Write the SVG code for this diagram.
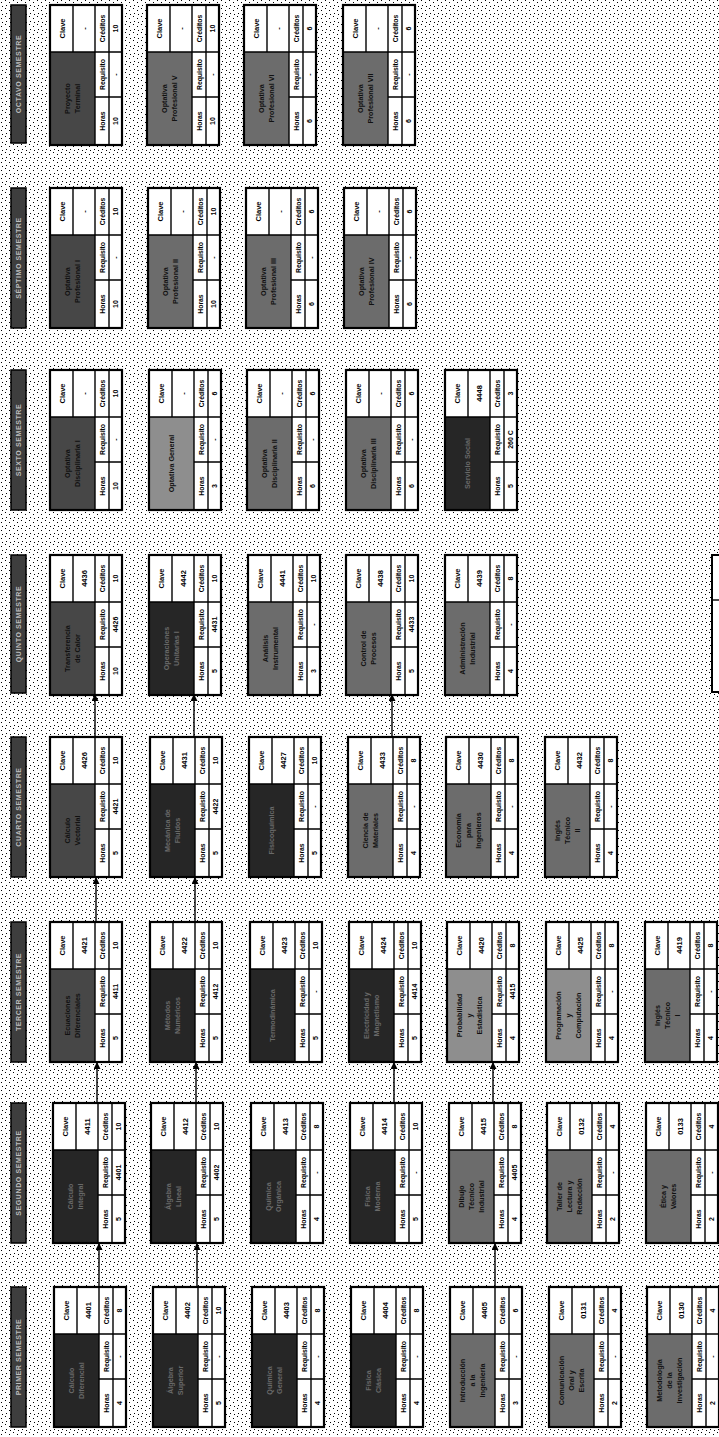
<svg xmlns="http://www.w3.org/2000/svg" xmlns:xlink="http://www.w3.org/1999/xlink" width="719" height="1437" viewBox="0 0 719 1437">
<style>
text{font-family:"Liberation Sans",Arial,sans-serif;font-weight:bold;text-anchor:middle}
.t{font-size:7.5px;fill:#000}
.l{font-size:6.8px;fill:#000}
.v{font-size:7px;fill:#000}
.n{font-size:7.2px;fill:#111}
.bg{fill:#fff}
.dk{fill:#262626}.md{fill:#474747}.mm{fill:#6c6c6c}.lt{fill:#8e8e8e}
.dk~.n{fill:#6a6a6a}
.hd{fill:#3e3e3e;stroke:#000;stroke-width:1.5}
.ht{font-size:7px;fill:#bdbdbd;letter-spacing:0.6px}
.ar{stroke:#000;stroke-width:1.4;fill:none;marker-end:url(#ah)}
</style>
<defs>
<pattern id="nz" width="8" height="8" patternUnits="userSpaceOnUse">
<rect width="8" height="8" fill="#fff"/>
<rect x="1" y="2" width="1" height="1" fill="#000"/>
<rect x="5" y="0" width="1" height="1" fill="#000"/>
<rect x="6" y="5" width="1" height="1" fill="#000"/>
<rect x="2" y="6" width="1" height="1" fill="#000"/>
</pattern>
<marker id="ah" viewBox="0 0 8 8" refX="8" refY="4" markerWidth="7" markerHeight="7" markerUnits="userSpaceOnUse" orient="auto">
<path d="M0 0L8 4L0 8z" fill="#000"/>
</marker>
<g id="fr" fill="none" stroke="#000">
<rect x="0" y="0" width="140" height="72" stroke-width="2.2"/>
<path d="M93 0V72M93 23H140M0 45H140M0 59H140M48 45V72" stroke-width="1.4"/>
</g>
<rect id="cb" width="140" height="72" fill="#fff"/>
</defs>
<rect width="719" height="1437" fill="url(#nz)"/>

<g id="headers">
<g id="h8"><rect class="hd" x="11" y="5" width="15" height="138"/><text class="ht" transform="translate(21,74) rotate(-90)">OCTAVO SEMESTRE</text></g>
<g id="h7"><rect class="hd" x="11" y="188" width="15" height="140"/><text class="ht" transform="translate(21,258) rotate(-90)">SÉPTIMO SEMESTRE</text></g>
<g id="h6"><rect class="hd" x="11" y="370" width="15" height="140"/><text class="ht" transform="translate(21,440) rotate(-90)">SEXTO SEMESTRE</text></g>
<g id="h5"><rect class="hd" x="11" y="555" width="15" height="138"/><text class="ht" transform="translate(21,624) rotate(-90)">QUINTO SEMESTRE</text></g>
<g id="h4"><rect class="hd" x="11" y="737" width="15" height="140"/><text class="ht" transform="translate(21,807) rotate(-90)">CUARTO SEMESTRE</text></g>
<g id="h3"><rect class="hd" x="11" y="922" width="15" height="140"/><text class="ht" transform="translate(21,992) rotate(-90)">TERCER SEMESTRE</text></g>
<g id="h2"><rect class="hd" x="11" y="1103" width="15" height="140"/><text class="ht" transform="translate(21,1173) rotate(-90)">SEGUNDO SEMESTRE</text></g>
<g id="h1"><rect class="hd" x="11" y="1287" width="15" height="140"/><text class="ht" transform="translate(21,1357) rotate(-90)">PRIMER SEMESTRE</text></g>
</g>

<g id="connectors">
<path class="ar" d="M99 1287V1243"/>
<path class="ar" d="M197 1287V1243"/>
<path class="ar" d="M495 1287V1243"/>
<path class="ar" d="M97 1103V1062"/>
<path class="ar" d="M196 1103V1062"/>
<path class="ar" d="M394 1103V1062"/>
<path class="ar" d="M493 1103V1062"/>
<path class="ar" d="M96 922V877"/>
<path class="ar" d="M195 922V877"/>
<path class="ar" d="M95 737V694"/>
<path class="ar" d="M194 737V694"/>
<path class="ar" d="M392 737V694"/>
</g>

<!-- ROW 8 -->
<g id="r8c1" transform="translate(50,145) rotate(-90)"><use href="#cb"/><rect class="md" width="93" height="45"/><text class="n" x="46.5" y="20">Proyecto</text><text class="n" x="46.5" y="30">Terminal</text><use href="#fr"/><text class="t" x="116.5" y="15">Clave</text><text class="t" x="116.5" y="37">-</text><text class="l" x="24" y="54.5">Horas</text><text class="l" x="70.5" y="54.5">Requisito</text><text class="l" x="116.5" y="54.5">Créditos</text><text class="v" x="24" y="68">10</text><text class="v" x="70.5" y="68">-</text><text class="v" x="116.5" y="68">10</text></g>
<g id="r8c2" transform="translate(147,145) rotate(-90)"><use href="#cb"/><rect class="mm" width="93" height="45"/><text class="n" x="46.5" y="20">Optativa</text><text class="n" x="46.5" y="30">Profesional V</text><use href="#fr"/><text class="t" x="116.5" y="15">Clave</text><text class="t" x="116.5" y="37">-</text><text class="l" x="24" y="54.5">Horas</text><text class="l" x="70.5" y="54.5">Requisito</text><text class="l" x="116.5" y="54.5">Créditos</text><text class="v" x="24" y="68">10</text><text class="v" x="70.5" y="68">-</text><text class="v" x="116.5" y="68">10</text></g>
<g id="r8c3" transform="translate(244,145) rotate(-90)"><use href="#cb"/><rect class="mm" width="93" height="45"/><text class="n" x="46.5" y="20">Optativa</text><text class="n" x="46.5" y="30">Profesional VI</text><use href="#fr"/><text class="t" x="116.5" y="15">Clave</text><text class="t" x="116.5" y="37">-</text><text class="l" x="24" y="54.5">Horas</text><text class="l" x="70.5" y="54.5">Requisito</text><text class="l" x="116.5" y="54.5">Créditos</text><text class="v" x="24" y="68">6</text><text class="v" x="70.5" y="68">-</text><text class="v" x="116.5" y="68">6</text></g>
<g id="r8c4" transform="translate(343,145) rotate(-90)"><use href="#cb"/><rect class="mm" width="93" height="45"/><text class="n" x="46.5" y="20">Optativa</text><text class="n" x="46.5" y="30">Profesional VII</text><use href="#fr"/><text class="t" x="116.5" y="15">Clave</text><text class="t" x="116.5" y="37">-</text><text class="l" x="24" y="54.5">Horas</text><text class="l" x="70.5" y="54.5">Requisito</text><text class="l" x="116.5" y="54.5">Créditos</text><text class="v" x="24" y="68">6</text><text class="v" x="70.5" y="68">-</text><text class="v" x="116.5" y="68">6</text></g>

<!-- ROW 7 -->
<g id="r7c1" transform="translate(50,328) rotate(-90)"><use href="#cb"/><rect class="md" width="93" height="45"/><text class="n" x="46.5" y="20">Optativa</text><text class="n" x="46.5" y="30">Profesional I</text><use href="#fr"/><text class="t" x="116.5" y="15">Clave</text><text class="t" x="116.5" y="37">-</text><text class="l" x="24" y="54.5">Horas</text><text class="l" x="70.5" y="54.5">Requisito</text><text class="l" x="116.5" y="54.5">Créditos</text><text class="v" x="24" y="68">10</text><text class="v" x="70.5" y="68">-</text><text class="v" x="116.5" y="68">10</text></g>
<g id="r7c2" transform="translate(148,328) rotate(-90)"><use href="#cb"/><rect class="mm" width="93" height="45"/><text class="n" x="46.5" y="20">Optativa</text><text class="n" x="46.5" y="30">Profesional II</text><use href="#fr"/><text class="t" x="116.5" y="15">Clave</text><text class="t" x="116.5" y="37">-</text><text class="l" x="24" y="54.5">Horas</text><text class="l" x="70.5" y="54.5">Requisito</text><text class="l" x="116.5" y="54.5">Créditos</text><text class="v" x="24" y="68">10</text><text class="v" x="70.5" y="68">-</text><text class="v" x="116.5" y="68">10</text></g>
<g id="r7c3" transform="translate(246,328) rotate(-90)"><use href="#cb"/><rect class="mm" width="93" height="45"/><text class="n" x="46.5" y="20">Optativa</text><text class="n" x="46.5" y="30">Profesional III</text><use href="#fr"/><text class="t" x="116.5" y="15">Clave</text><text class="t" x="116.5" y="37">-</text><text class="l" x="24" y="54.5">Horas</text><text class="l" x="70.5" y="54.5">Requisito</text><text class="l" x="116.5" y="54.5">Créditos</text><text class="v" x="24" y="68">6</text><text class="v" x="70.5" y="68">-</text><text class="v" x="116.5" y="68">6</text></g>
<g id="r7c4" transform="translate(344,328) rotate(-90)"><use href="#cb"/><rect class="mm" width="93" height="45"/><text class="n" x="46.5" y="20">Optativa</text><text class="n" x="46.5" y="30">Profesional IV</text><use href="#fr"/><text class="t" x="116.5" y="15">Clave</text><text class="t" x="116.5" y="37">-</text><text class="l" x="24" y="54.5">Horas</text><text class="l" x="70.5" y="54.5">Requisito</text><text class="l" x="116.5" y="54.5">Créditos</text><text class="v" x="24" y="68">6</text><text class="v" x="70.5" y="68">-</text><text class="v" x="116.5" y="68">6</text></g>

<!-- ROW 6 -->
<g id="r6c1" transform="translate(50,510) rotate(-90)"><use href="#cb"/><rect class="md" width="93" height="45"/><text class="n" x="46.5" y="20">Optativa</text><text class="n" x="46.5" y="30">Disciplinaria I</text><use href="#fr"/><text class="t" x="116.5" y="15">Clave</text><text class="t" x="116.5" y="37">-</text><text class="l" x="24" y="54.5">Horas</text><text class="l" x="70.5" y="54.5">Requisito</text><text class="l" x="116.5" y="54.5">Créditos</text><text class="v" x="24" y="68">10</text><text class="v" x="70.5" y="68">-</text><text class="v" x="116.5" y="68">10</text></g>
<g id="r6c2" transform="translate(149,510) rotate(-90)"><use href="#cb"/><rect class="lt" width="93" height="45"/><text class="n" x="46.5" y="25">Optativa General</text><use href="#fr"/><text class="t" x="116.5" y="15">Clave</text><text class="t" x="116.5" y="37">-</text><text class="l" x="24" y="54.5">Horas</text><text class="l" x="70.5" y="54.5">Requisito</text><text class="l" x="116.5" y="54.5">Créditos</text><text class="v" x="24" y="68">3</text><text class="v" x="70.5" y="68">-</text><text class="v" x="116.5" y="68">6</text></g>
<g id="r6c3" transform="translate(247,510) rotate(-90)"><use href="#cb"/><rect class="mm" width="93" height="45"/><text class="n" x="46.5" y="20">Optativa</text><text class="n" x="46.5" y="30">Disciplinaria II</text><use href="#fr"/><text class="t" x="116.5" y="15">Clave</text><text class="t" x="116.5" y="37">-</text><text class="l" x="24" y="54.5">Horas</text><text class="l" x="70.5" y="54.5">Requisito</text><text class="l" x="116.5" y="54.5">Créditos</text><text class="v" x="24" y="68">6</text><text class="v" x="70.5" y="68">-</text><text class="v" x="116.5" y="68">6</text></g>
<g id="r6c4" transform="translate(346,510) rotate(-90)"><use href="#cb"/><rect class="mm" width="93" height="45"/><text class="n" x="46.5" y="20">Optativa</text><text class="n" x="46.5" y="30">Disciplinaria III</text><use href="#fr"/><text class="t" x="116.5" y="15">Clave</text><text class="t" x="116.5" y="37">-</text><text class="l" x="24" y="54.5">Horas</text><text class="l" x="70.5" y="54.5">Requisito</text><text class="l" x="116.5" y="54.5">Créditos</text><text class="v" x="24" y="68">6</text><text class="v" x="70.5" y="68">-</text><text class="v" x="116.5" y="68">6</text></g>
<g id="r6c5" transform="translate(445,510) rotate(-90)"><use href="#cb"/><rect class="dk" width="93" height="45"/><text class="n" x="46.5" y="25">Servicio Social</text><use href="#fr"/><text class="t" x="116.5" y="15">Clave</text><text class="t" x="116.5" y="37">4448</text><text class="l" x="24" y="54.5">Horas</text><text class="l" x="70.5" y="54.5">Requisito</text><text class="l" x="116.5" y="54.5">Créditos</text><text class="v" x="24" y="68">5</text><text class="v" x="70.5" y="68">260 C</text><text class="v" x="116.5" y="68">3</text></g>

<!-- ROW 5 -->
<g id="r5c1" transform="translate(50,695) rotate(-90)"><use href="#cb"/><rect class="md" width="93" height="45"/><text class="n" x="46.5" y="20">Transferencia</text><text class="n" x="46.5" y="30">de Calor</text><use href="#fr"/><text class="t" x="116.5" y="15">Clave</text><text class="t" x="116.5" y="37">4436</text><text class="l" x="24" y="54.5">Horas</text><text class="l" x="70.5" y="54.5">Requisito</text><text class="l" x="116.5" y="54.5">Créditos</text><text class="v" x="24" y="68">10</text><text class="v" x="70.5" y="68">4426</text><text class="v" x="116.5" y="68">10</text></g>
<g id="r5c2" transform="translate(149,695) rotate(-90)"><use href="#cb"/><rect class="dk" width="93" height="45"/><text class="n" x="46.5" y="20">Operaciones</text><text class="n" x="46.5" y="30">Unitarias I</text><use href="#fr"/><text class="t" x="116.5" y="15">Clave</text><text class="t" x="116.5" y="37">4442</text><text class="l" x="24" y="54.5">Horas</text><text class="l" x="70.5" y="54.5">Requisito</text><text class="l" x="116.5" y="54.5">Créditos</text><text class="v" x="24" y="68">5</text><text class="v" x="70.5" y="68">4431</text><text class="v" x="116.5" y="68">10</text></g>
<g id="r5c3" transform="translate(248,695) rotate(-90)"><use href="#cb"/><rect class="mm" width="93" height="45"/><text class="n" x="46.5" y="20">Análisis</text><text class="n" x="46.5" y="30">Instrumental</text><use href="#fr"/><text class="t" x="116.5" y="15">Clave</text><text class="t" x="116.5" y="37">4441</text><text class="l" x="24" y="54.5">Horas</text><text class="l" x="70.5" y="54.5">Requisito</text><text class="l" x="116.5" y="54.5">Créditos</text><text class="v" x="24" y="68">3</text><text class="v" x="70.5" y="68">-</text><text class="v" x="116.5" y="68">10</text></g>
<g id="r5c4" transform="translate(346,695) rotate(-90)"><use href="#cb"/><rect class="mm" width="93" height="45"/><text class="n" x="46.5" y="20">Control de</text><text class="n" x="46.5" y="30">Procesos</text><use href="#fr"/><text class="t" x="116.5" y="15">Clave</text><text class="t" x="116.5" y="37">4438</text><text class="l" x="24" y="54.5">Horas</text><text class="l" x="70.5" y="54.5">Requisito</text><text class="l" x="116.5" y="54.5">Créditos</text><text class="v" x="24" y="68">5</text><text class="v" x="70.5" y="68">4433</text><text class="v" x="116.5" y="68">10</text></g>
<g id="r5c5" transform="translate(445,695) rotate(-90)"><use href="#cb"/><rect class="mm" width="93" height="45"/><text class="n" x="46.5" y="20">Administración</text><text class="n" x="46.5" y="30">Industrial</text><use href="#fr"/><text class="t" x="116.5" y="15">Clave</text><text class="t" x="116.5" y="37">4439</text><text class="l" x="24" y="54.5">Horas</text><text class="l" x="70.5" y="54.5">Requisito</text><text class="l" x="116.5" y="54.5">Créditos</text><text class="v" x="24" y="68">4</text><text class="v" x="70.5" y="68">-</text><text class="v" x="116.5" y="68">8</text></g>
<g id="r5box"><rect x="712" y="555" width="60" height="137" fill="#fff" stroke="#000" stroke-width="2"/><path d="M712 600H719" stroke="#000" stroke-width="1.4"/></g>

<!-- ROW 4 -->
<g id="r4c1" transform="translate(50,877) rotate(-90)"><use href="#cb"/><rect class="md" width="93" height="45"/><text class="n" x="46.5" y="20">Cálculo</text><text class="n" x="46.5" y="30">Vectorial</text><use href="#fr"/><text class="t" x="116.5" y="15">Clave</text><text class="t" x="116.5" y="37">4426</text><text class="l" x="24" y="54.5">Horas</text><text class="l" x="70.5" y="54.5">Requisito</text><text class="l" x="116.5" y="54.5">Créditos</text><text class="v" x="24" y="68">5</text><text class="v" x="70.5" y="68">4421</text><text class="v" x="116.5" y="68">10</text></g>
<g id="r4c2" transform="translate(150,877) rotate(-90)"><use href="#cb"/><rect class="dk" width="93" height="45"/><text class="n" x="46.5" y="20">Mecánica de</text><text class="n" x="46.5" y="30">Fluidos</text><use href="#fr"/><text class="t" x="116.5" y="15">Clave</text><text class="t" x="116.5" y="37">4431</text><text class="l" x="24" y="54.5">Horas</text><text class="l" x="70.5" y="54.5">Requisito</text><text class="l" x="116.5" y="54.5">Créditos</text><text class="v" x="24" y="68">5</text><text class="v" x="70.5" y="68">4422</text><text class="v" x="116.5" y="68">10</text></g>
<g id="r4c3" transform="translate(249,877) rotate(-90)"><use href="#cb"/><rect class="dk" width="93" height="45"/><text class="n" x="46.5" y="25">Fisicoquímica</text><use href="#fr"/><text class="t" x="116.5" y="15">Clave</text><text class="t" x="116.5" y="37">4427</text><text class="l" x="24" y="54.5">Horas</text><text class="l" x="70.5" y="54.5">Requisito</text><text class="l" x="116.5" y="54.5">Créditos</text><text class="v" x="24" y="68">5</text><text class="v" x="70.5" y="68">-</text><text class="v" x="116.5" y="68">10</text></g>
<g id="r4c4" transform="translate(348,877) rotate(-90)"><use href="#cb"/><rect class="mm" width="93" height="45"/><text class="n" x="46.5" y="20">Ciencia de</text><text class="n" x="46.5" y="30">Materiales</text><use href="#fr"/><text class="t" x="116.5" y="15">Clave</text><text class="t" x="116.5" y="37">4433</text><text class="l" x="24" y="54.5">Horas</text><text class="l" x="70.5" y="54.5">Requisito</text><text class="l" x="116.5" y="54.5">Créditos</text><text class="v" x="24" y="68">4</text><text class="v" x="70.5" y="68">-</text><text class="v" x="116.5" y="68">8</text></g>
<g id="r4c5" transform="translate(446,877) rotate(-90)"><use href="#cb"/><rect class="mm" width="93" height="45"/><text class="n" x="46.5" y="15">Economía</text><text class="n" x="46.5" y="25">para</text><text class="n" x="46.5" y="35">Ingenieros</text><use href="#fr"/><text class="t" x="116.5" y="15">Clave</text><text class="t" x="116.5" y="37">4430</text><text class="l" x="24" y="54.5">Horas</text><text class="l" x="70.5" y="54.5">Requisito</text><text class="l" x="116.5" y="54.5">Créditos</text><text class="v" x="24" y="68">4</text><text class="v" x="70.5" y="68">-</text><text class="v" x="116.5" y="68">8</text></g>
<g id="r4c6" transform="translate(545,877) rotate(-90)"><use href="#cb"/><rect class="mm" width="93" height="45"/><text class="n" x="46.5" y="15">Inglés</text><text class="n" x="46.5" y="25">Técnico</text><text class="n" x="46.5" y="35">II</text><use href="#fr"/><text class="t" x="116.5" y="15">Clave</text><text class="t" x="116.5" y="37">4432</text><text class="l" x="24" y="54.5">Horas</text><text class="l" x="70.5" y="54.5">Requisito</text><text class="l" x="116.5" y="54.5">Créditos</text><text class="v" x="24" y="68">4</text><text class="v" x="70.5" y="68">-</text><text class="v" x="116.5" y="68">8</text></g>

<!-- ROW 3 -->
<g id="r3c1" transform="translate(50,1062) rotate(-90)"><use href="#cb"/><rect class="md" width="93" height="45"/><text class="n" x="46.5" y="20">Ecuaciones</text><text class="n" x="46.5" y="30">Diferenciales</text><use href="#fr"/><text class="t" x="116.5" y="15">Clave</text><text class="t" x="116.5" y="37">4421</text><text class="l" x="24" y="54.5">Horas</text><text class="l" x="70.5" y="54.5">Requisito</text><text class="l" x="116.5" y="54.5">Créditos</text><text class="v" x="24" y="68">5</text><text class="v" x="70.5" y="68">4411</text><text class="v" x="116.5" y="68">10</text></g>
<g id="r3c2" transform="translate(150,1062) rotate(-90)"><use href="#cb"/><rect class="dk" width="93" height="45"/><text class="n" x="46.5" y="20">Métodos</text><text class="n" x="46.5" y="30">Numéricos</text><use href="#fr"/><text class="t" x="116.5" y="15">Clave</text><text class="t" x="116.5" y="37">4422</text><text class="l" x="24" y="54.5">Horas</text><text class="l" x="70.5" y="54.5">Requisito</text><text class="l" x="116.5" y="54.5">Créditos</text><text class="v" x="24" y="68">5</text><text class="v" x="70.5" y="68">4412</text><text class="v" x="116.5" y="68">10</text></g>
<g id="r3c3" transform="translate(250,1062) rotate(-90)"><use href="#cb"/><rect class="dk" width="93" height="45"/><text class="n" x="46.5" y="25">Termodinámica</text><use href="#fr"/><text class="t" x="116.5" y="15">Clave</text><text class="t" x="116.5" y="37">4423</text><text class="l" x="24" y="54.5">Horas</text><text class="l" x="70.5" y="54.5">Requisito</text><text class="l" x="116.5" y="54.5">Créditos</text><text class="v" x="24" y="68">5</text><text class="v" x="70.5" y="68">-</text><text class="v" x="116.5" y="68">10</text></g>
<g id="r3c4" transform="translate(349,1062) rotate(-90)"><use href="#cb"/><rect class="dk" width="93" height="45"/><text class="n" x="46.5" y="20">Electricidad y</text><text class="n" x="46.5" y="30">Magnetismo</text><use href="#fr"/><text class="t" x="116.5" y="15">Clave</text><text class="t" x="116.5" y="37">4424</text><text class="l" x="24" y="54.5">Horas</text><text class="l" x="70.5" y="54.5">Requisito</text><text class="l" x="116.5" y="54.5">Créditos</text><text class="v" x="24" y="68">5</text><text class="v" x="70.5" y="68">4414</text><text class="v" x="116.5" y="68">10</text></g>
<g id="r3c5" transform="translate(447,1062) rotate(-90)"><use href="#cb"/><rect class="lt" width="93" height="45"/><text class="n" x="46.5" y="15">Probabilidad</text><text class="n" x="46.5" y="25">y</text><text class="n" x="46.5" y="35">Estadística</text><use href="#fr"/><text class="t" x="116.5" y="15">Clave</text><text class="t" x="116.5" y="37">4420</text><text class="l" x="24" y="54.5">Horas</text><text class="l" x="70.5" y="54.5">Requisito</text><text class="l" x="116.5" y="54.5">Créditos</text><text class="v" x="24" y="68">4</text><text class="v" x="70.5" y="68">4415</text><text class="v" x="116.5" y="68">8</text></g>
<g id="r3c6" transform="translate(546,1062) rotate(-90)"><use href="#cb"/><rect class="lt" width="93" height="45"/><text class="n" x="46.5" y="15">Programación</text><text class="n" x="46.5" y="25">y</text><text class="n" x="46.5" y="35">Computación</text><use href="#fr"/><text class="t" x="116.5" y="15">Clave</text><text class="t" x="116.5" y="37">4425</text><text class="l" x="24" y="54.5">Horas</text><text class="l" x="70.5" y="54.5">Requisito</text><text class="l" x="116.5" y="54.5">Créditos</text><text class="v" x="24" y="68">4</text><text class="v" x="70.5" y="68">-</text><text class="v" x="116.5" y="68">8</text></g>
<g id="r3c7" transform="translate(645,1062) rotate(-90)"><use href="#cb"/><rect class="mm" width="93" height="45"/><text class="n" x="46.5" y="15">Inglés</text><text class="n" x="46.5" y="25">Técnico</text><text class="n" x="46.5" y="35">I</text><use href="#fr"/><text class="t" x="116.5" y="15">Clave</text><text class="t" x="116.5" y="37">4419</text><text class="l" x="24" y="54.5">Horas</text><text class="l" x="70.5" y="54.5">Requisito</text><text class="l" x="116.5" y="54.5">Créditos</text><text class="v" x="24" y="68">4</text><text class="v" x="70.5" y="68">-</text><text class="v" x="116.5" y="68">8</text></g>

<!-- ROW 2 -->
<g id="r2c1" transform="translate(53,1243) rotate(-90)"><use href="#cb"/><rect class="dk" width="93" height="45"/><text class="n" x="46.5" y="20">Cálculo</text><text class="n" x="46.5" y="30">Integral</text><use href="#fr"/><text class="t" x="116.5" y="15">Clave</text><text class="t" x="116.5" y="37">4411</text><text class="l" x="24" y="54.5">Horas</text><text class="l" x="70.5" y="54.5">Requisito</text><text class="l" x="116.5" y="54.5">Créditos</text><text class="v" x="24" y="68">5</text><text class="v" x="70.5" y="68">4401</text><text class="v" x="116.5" y="68">10</text></g>
<g id="r2c2" transform="translate(151,1243) rotate(-90)"><use href="#cb"/><rect class="dk" width="93" height="45"/><text class="n" x="46.5" y="20">Álgebra</text><text class="n" x="46.5" y="30">Lineal</text><use href="#fr"/><text class="t" x="116.5" y="15">Clave</text><text class="t" x="116.5" y="37">4412</text><text class="l" x="24" y="54.5">Horas</text><text class="l" x="70.5" y="54.5">Requisito</text><text class="l" x="116.5" y="54.5">Créditos</text><text class="v" x="24" y="68">5</text><text class="v" x="70.5" y="68">4402</text><text class="v" x="116.5" y="68">10</text></g>
<g id="r2c3" transform="translate(251,1243) rotate(-90)"><use href="#cb"/><rect class="dk" width="93" height="45"/><text class="n" x="46.5" y="20">Química</text><text class="n" x="46.5" y="30">Orgánica</text><use href="#fr"/><text class="t" x="116.5" y="15">Clave</text><text class="t" x="116.5" y="37">4413</text><text class="l" x="24" y="54.5">Horas</text><text class="l" x="70.5" y="54.5">Requisito</text><text class="l" x="116.5" y="54.5">Créditos</text><text class="v" x="24" y="68">4</text><text class="v" x="70.5" y="68">-</text><text class="v" x="116.5" y="68">8</text></g>
<g id="r2c4" transform="translate(350,1243) rotate(-90)"><use href="#cb"/><rect class="dk" width="93" height="45"/><text class="n" x="46.5" y="20">Física</text><text class="n" x="46.5" y="30">Moderna</text><use href="#fr"/><text class="t" x="116.5" y="15">Clave</text><text class="t" x="116.5" y="37">4414</text><text class="l" x="24" y="54.5">Horas</text><text class="l" x="70.5" y="54.5">Requisito</text><text class="l" x="116.5" y="54.5">Créditos</text><text class="v" x="24" y="68">5</text><text class="v" x="70.5" y="68">-</text><text class="v" x="116.5" y="68">10</text></g>
<g id="r2c5" transform="translate(449,1243) rotate(-90)"><use href="#cb"/><rect class="mm" width="93" height="45"/><text class="n" x="46.5" y="15">Dibujo</text><text class="n" x="46.5" y="25">Técnico</text><text class="n" x="46.5" y="35">Industrial</text><use href="#fr"/><text class="t" x="116.5" y="15">Clave</text><text class="t" x="116.5" y="37">4415</text><text class="l" x="24" y="54.5">Horas</text><text class="l" x="70.5" y="54.5">Requisito</text><text class="l" x="116.5" y="54.5">Créditos</text><text class="v" x="24" y="68">4</text><text class="v" x="70.5" y="68">4405</text><text class="v" x="116.5" y="68">8</text></g>
<g id="r2c6" transform="translate(547,1243) rotate(-90)"><use href="#cb"/><rect class="mm" width="93" height="45"/><text class="n" x="46.5" y="15">Taller de</text><text class="n" x="46.5" y="25">Lectura y</text><text class="n" x="46.5" y="35">Redacción</text><use href="#fr"/><text class="t" x="116.5" y="15">Clave</text><text class="t" x="116.5" y="37">0132</text><text class="l" x="24" y="54.5">Horas</text><text class="l" x="70.5" y="54.5">Requisito</text><text class="l" x="116.5" y="54.5">Créditos</text><text class="v" x="24" y="68">2</text><text class="v" x="70.5" y="68">-</text><text class="v" x="116.5" y="68">4</text></g>
<g id="r2c7" transform="translate(646,1243) rotate(-90)"><use href="#cb"/><rect class="mm" width="93" height="45"/><text class="n" x="46.5" y="20">Ética y</text><text class="n" x="46.5" y="30">Valores</text><use href="#fr"/><text class="t" x="116.5" y="15">Clave</text><text class="t" x="116.5" y="37">0133</text><text class="l" x="24" y="54.5">Horas</text><text class="l" x="70.5" y="54.5">Requisito</text><text class="l" x="116.5" y="54.5">Créditos</text><text class="v" x="24" y="68">2</text><text class="v" x="70.5" y="68">-</text><text class="v" x="116.5" y="68">4</text></g>

<!-- ROW 1 -->
<g id="r1c1" transform="translate(54,1427) rotate(-90)"><use href="#cb"/><rect class="dk" width="93" height="45"/><text class="n" x="46.5" y="20">Cálculo</text><text class="n" x="46.5" y="30">Diferencial</text><use href="#fr"/><text class="t" x="116.5" y="15">Clave</text><text class="t" x="116.5" y="37">4401</text><text class="l" x="24" y="54.5">Horas</text><text class="l" x="70.5" y="54.5">Requisito</text><text class="l" x="116.5" y="54.5">Créditos</text><text class="v" x="24" y="68">4</text><text class="v" x="70.5" y="68">-</text><text class="v" x="116.5" y="68">8</text></g>
<g id="r1c2" transform="translate(153,1427) rotate(-90)"><use href="#cb"/><rect class="dk" width="93" height="45"/><text class="n" x="46.5" y="20">Álgebra</text><text class="n" x="46.5" y="30">Superior</text><use href="#fr"/><text class="t" x="116.5" y="15">Clave</text><text class="t" x="116.5" y="37">4402</text><text class="l" x="24" y="54.5">Horas</text><text class="l" x="70.5" y="54.5">Requisito</text><text class="l" x="116.5" y="54.5">Créditos</text><text class="v" x="24" y="68">5</text><text class="v" x="70.5" y="68">-</text><text class="v" x="116.5" y="68">10</text></g>
<g id="r1c3" transform="translate(252,1427) rotate(-90)"><use href="#cb"/><rect class="dk" width="93" height="45"/><text class="n" x="46.5" y="20">Química</text><text class="n" x="46.5" y="30">General</text><use href="#fr"/><text class="t" x="116.5" y="15">Clave</text><text class="t" x="116.5" y="37">4403</text><text class="l" x="24" y="54.5">Horas</text><text class="l" x="70.5" y="54.5">Requisito</text><text class="l" x="116.5" y="54.5">Créditos</text><text class="v" x="24" y="68">4</text><text class="v" x="70.5" y="68">-</text><text class="v" x="116.5" y="68">8</text></g>
<g id="r1c4" transform="translate(351,1427) rotate(-90)"><use href="#cb"/><rect class="dk" width="93" height="45"/><text class="n" x="46.5" y="20">Física</text><text class="n" x="46.5" y="30">Clásica</text><use href="#fr"/><text class="t" x="116.5" y="15">Clave</text><text class="t" x="116.5" y="37">4404</text><text class="l" x="24" y="54.5">Horas</text><text class="l" x="70.5" y="54.5">Requisito</text><text class="l" x="116.5" y="54.5">Créditos</text><text class="v" x="24" y="68">4</text><text class="v" x="70.5" y="68">-</text><text class="v" x="116.5" y="68">8</text></g>
<g id="r1c5" transform="translate(450,1427) rotate(-90)"><use href="#cb"/><rect class="mm" width="93" height="45"/><text class="n" x="46.5" y="15">Introducción</text><text class="n" x="46.5" y="25">a la</text><text class="n" x="46.5" y="35">Ingeniería</text><use href="#fr"/><text class="t" x="116.5" y="15">Clave</text><text class="t" x="116.5" y="37">4405</text><text class="l" x="24" y="54.5">Horas</text><text class="l" x="70.5" y="54.5">Requisito</text><text class="l" x="116.5" y="54.5">Créditos</text><text class="v" x="24" y="68">3</text><text class="v" x="70.5" y="68">-</text><text class="v" x="116.5" y="68">6</text></g>
<g id="r1c6" transform="translate(549,1427) rotate(-90)"><use href="#cb"/><rect class="mm" width="93" height="45"/><text class="n" x="46.5" y="15">Comunicación</text><text class="n" x="46.5" y="25">Oral y</text><text class="n" x="46.5" y="35">Escrita</text><use href="#fr"/><text class="t" x="116.5" y="15">Clave</text><text class="t" x="116.5" y="37">0131</text><text class="l" x="24" y="54.5">Horas</text><text class="l" x="70.5" y="54.5">Requisito</text><text class="l" x="116.5" y="54.5">Créditos</text><text class="v" x="24" y="68">2</text><text class="v" x="70.5" y="68">-</text><text class="v" x="116.5" y="68">4</text></g>
<g id="r1c7" transform="translate(647,1427) rotate(-90)"><use href="#cb"/><rect class="mm" width="93" height="45"/><text class="n" x="46.5" y="15">Metodología</text><text class="n" x="46.5" y="25">de la</text><text class="n" x="46.5" y="35">Investigación</text><use href="#fr"/><text class="t" x="116.5" y="15">Clave</text><text class="t" x="116.5" y="37">0130</text><text class="l" x="24" y="54.5">Horas</text><text class="l" x="70.5" y="54.5">Requisito</text><text class="l" x="116.5" y="54.5">Créditos</text><text class="v" x="24" y="68">2</text><text class="v" x="70.5" y="68">-</text><text class="v" x="116.5" y="68">4</text></g>
</svg>
